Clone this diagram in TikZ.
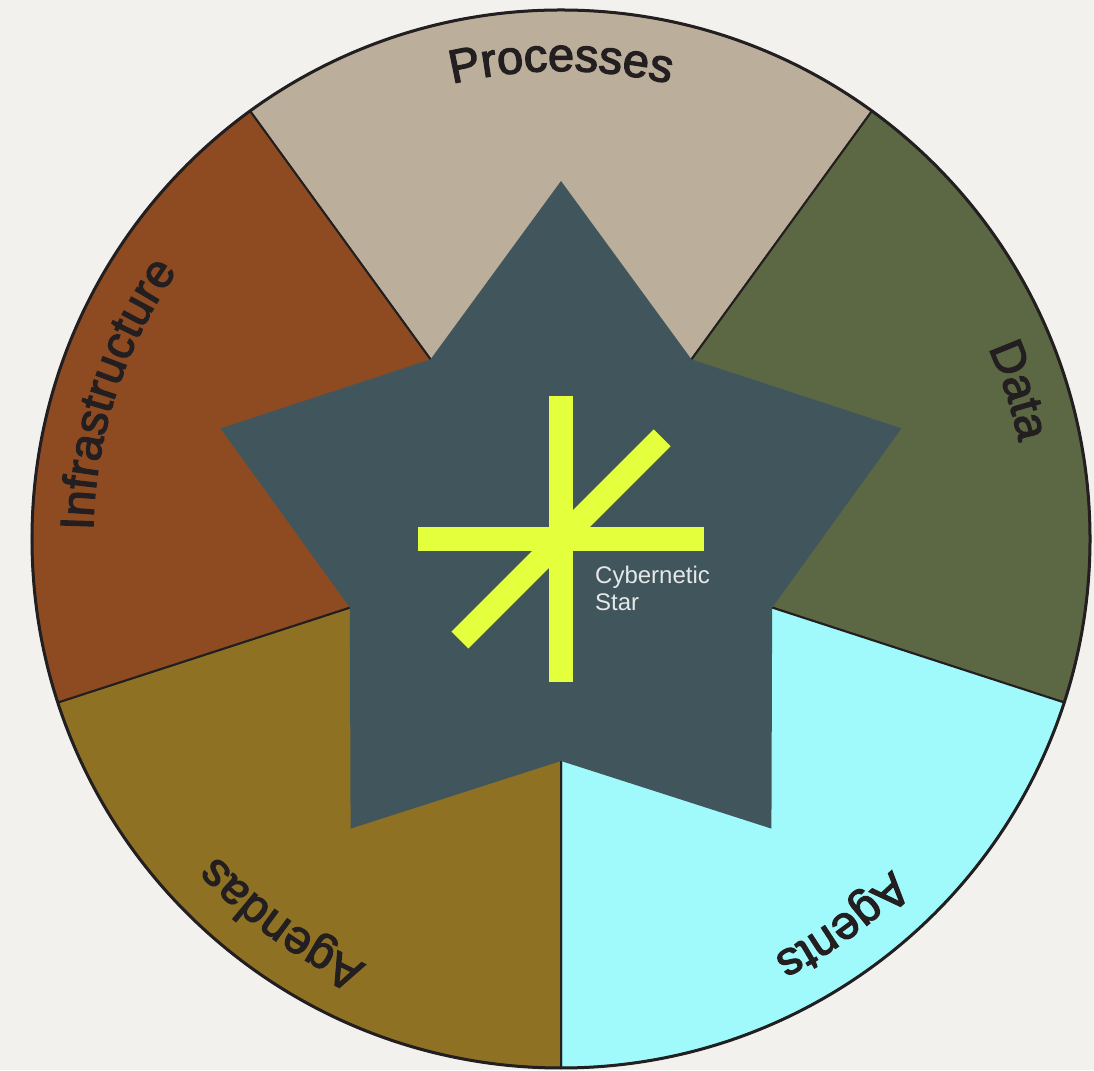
\documentclass[tikz,border=0pt]{standalone}
\usepackage{fontspec}
\setmainfont{Liberation Sans}
\newfontfamily\labfamily[FakeBold=2.6]{Liberation Sans}
\usetikzlibrary{decorations.text}
\definecolor{bg}{HTML}{F2F1EE}
\definecolor{procc}{HTML}{BBAE9B}
\definecolor{datac}{HTML}{5C6743}
\definecolor{agentc}{HTML}{A0FAFB}
\definecolor{agendac}{HTML}{8F7124}
\definecolor{infrac}{HTML}{8E4B22}
\definecolor{starc}{HTML}{40565C}
\definecolor{astc}{HTML}{E4FF3C}
\definecolor{linec}{HTML}{231F20}
\definecolor{labc}{HTML}{231F20}
\definecolor{smallc}{HTML}{E6E8E8}
\newcommand\lblfont{\labfamily\fontsize{47}{47}\selectfont}
\tikzset{
  sector/.style={draw=linec, line width=2pt, line join=round},
  rim/.style={draw=linec, line width=3pt},
  astbar/.style={draw=astc, line width=24pt, line cap=butt},
  arclabel/.style={decorate, decoration={text along path, text align=center, text color=labc, text={|\lblfont|#1}}},
  small/.style={text=smallc, font=\fontsize{24}{28}\selectfont, inner sep=0pt, anchor=base west}
}
\begin{document}
\begin{tikzpicture}[x=1pt,y=1pt]
\fill[bg] (0,0) rectangle (1094,1070);
\useasboundingbox (0,0) rectangle (1094,1070);
\coordinate (c) at (561,531);
% sectors
\foreach \s/\col in {54/procc, -18/datac, -90/agentc, -162/agendac, 126/infrac}{
  \filldraw[sector, fill=\col, shift={(c)}] (0,0) -- (\s:529) arc[start angle=\s, delta angle=72, radius=529] -- cycle;
}
\draw[rim] (c) circle[radius=529];
% star
\fill[starc, shift={(c)}] (90:358) -- (54:222) -- (18:358) -- (-18:222) -- (-54:358) -- (-90:222) -- (-126:358) -- (-162:222) -- (162:358) -- (126:222) -- cycle;
% asterisk
\begin{scope}[shift={(c)}]
  \draw[astbar] (90:143) -- (-90:143);
  \draw[astbar] (180:143) -- (0:143);
  \draw[astbar] (225:143) -- (45:143);
\end{scope}
\node[small] (cyb1) at (595,486) {Cybernetic};
\node[small] (cyb2) at (595,459) {Star};
% labels along arcs
\path[shift={(c)}, arclabel=Processes] (120:468) arc[start angle=120, end angle=60, radius=468];
\path[shift={(c)}, arclabel=Data] (48:468) arc[start angle=48, end angle=-12, radius=468];
\path[shift={(c)}, arclabel=Agents] (-24:468) arc[start angle=-24, end angle=-84, radius=468];
\path[shift={(c)}, arclabel=Agendas] (-96:468) arc[start angle=-96, end angle=-156, radius=468];
\path[shift={(c)}, arclabel=Infrastructure] (192:468) arc[start angle=192, end angle=132, radius=468];
\end{tikzpicture}
\end{document}
